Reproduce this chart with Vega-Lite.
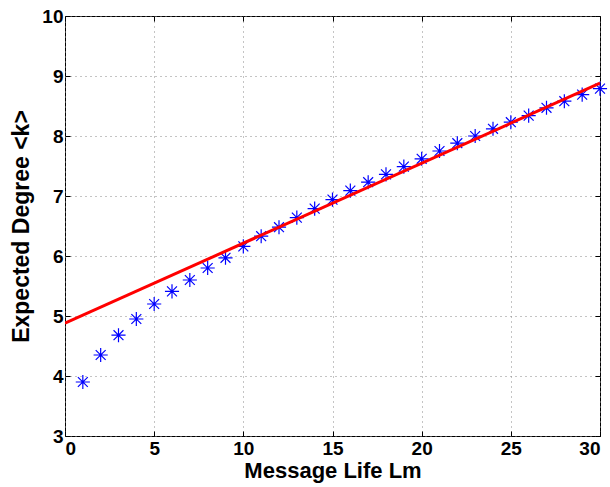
{
  "$schema": "https://vega.github.io/schema/vega-lite/v6.json",
  "width": 535,
  "height": 420,
  "autosize": {"type": "none"},
  "padding": {"left": 65, "top": 16, "right": 10, "bottom": 51},
  "background": "white",
  "config": {
    "view": {"stroke": "black", "strokeWidth": 1},
    "font": "Liberation Sans",
    "axis": {
      "labelFont": "Liberation Sans",
      "labelFontWeight": "bold",
      "labelFontSize": 19,
      "labelColor": "black",
      "titleFont": "Liberation Sans",
      "titleFontWeight": "bold",
      "titleFontSize": 22,
      "titleColor": "black",
      "domain": false,
      "tickColor": "black",
      "tickSize": -5,
      "gridColor": "#888888",
      "gridDash": [1, 4],
      "gridWidth": 1
    }
  },
  "datasets": {
    "pts": [
      {"Lm": 1, "k": 3.90}, {"Lm": 2, "k": 4.35}, {"Lm": 3, "k": 4.68}, {"Lm": 4, "k": 4.95},
      {"Lm": 5, "k": 5.20}, {"Lm": 6, "k": 5.41}, {"Lm": 7, "k": 5.60}, {"Lm": 8, "k": 5.80},
      {"Lm": 9, "k": 5.97}, {"Lm": 10, "k": 6.16}, {"Lm": 11, "k": 6.33}, {"Lm": 12, "k": 6.48},
      {"Lm": 13, "k": 6.64}, {"Lm": 14, "k": 6.79}, {"Lm": 15, "k": 6.94}, {"Lm": 16, "k": 7.09},
      {"Lm": 17, "k": 7.23}, {"Lm": 18, "k": 7.36}, {"Lm": 19, "k": 7.49}, {"Lm": 20, "k": 7.62},
      {"Lm": 21, "k": 7.75}, {"Lm": 22, "k": 7.88}, {"Lm": 23, "k": 8.00}, {"Lm": 24, "k": 8.12},
      {"Lm": 25, "k": 8.23}, {"Lm": 26, "k": 8.34}, {"Lm": 27, "k": 8.47}, {"Lm": 28, "k": 8.58},
      {"Lm": 29, "k": 8.69}, {"Lm": 30, "k": 8.79}
    ],
    "fit": [
      {"Lm": 0, "k": 4.88}, {"Lm": 30, "k": 8.88}
    ]
  },
  "layer": [
    {
      "data": {"name": "pts"},
      "mark": {
        "type": "point",
        "shape": "M-1,0L1,0M0,-1L0,1M-0.7,-0.7L0.7,0.7M-0.7,0.7L0.7,-0.7",
        "filled": false,
        "stroke": "#0000ff",
        "strokeWidth": 1.2,
        "size": 200,
        "opacity": 1
      },
      "encoding": {
        "x": {
          "field": "Lm", "type": "quantitative",
          "scale": {"domain": [0, 30], "nice": false},
          "axis": {"title": "Message Life Lm", "values": [0, 5, 10, 15, 20, 25, 30], "labelPadding": 8, "titlePadding": 2}
        },
        "y": {
          "field": "k", "type": "quantitative",
          "scale": {"domain": [3, 10], "nice": false, "zero": false},
          "axis": {"title": "Expected Degree <k>", "titleFontSize": 23, "values": [3, 4, 5, 6, 7, 8, 9, 10], "labelPadding": 7, "titlePadding": 8}
        }
      }
    },
    {
      "data": {"name": "fit"},
      "mark": {"type": "line", "color": "#ff0000", "strokeWidth": 3, "clip": true},
      "encoding": {
        "x": {
          "field": "Lm", "type": "quantitative",
          "scale": {"domain": [0, 30], "nice": false},
          "axis": {"orient": "top", "title": null, "labels": false, "grid": false, "values": [0, 5, 10, 15, 20, 25, 30]}
        },
        "y": {
          "field": "k", "type": "quantitative",
          "scale": {"domain": [3, 10], "nice": false, "zero": false},
          "axis": {"orient": "right", "title": null, "labels": false, "grid": false, "values": [3, 4, 5, 6, 7, 8, 9, 10]}
        }
      }
    }
  ],
  "resolve": {"axis": {"x": "independent", "y": "independent"}}
}
